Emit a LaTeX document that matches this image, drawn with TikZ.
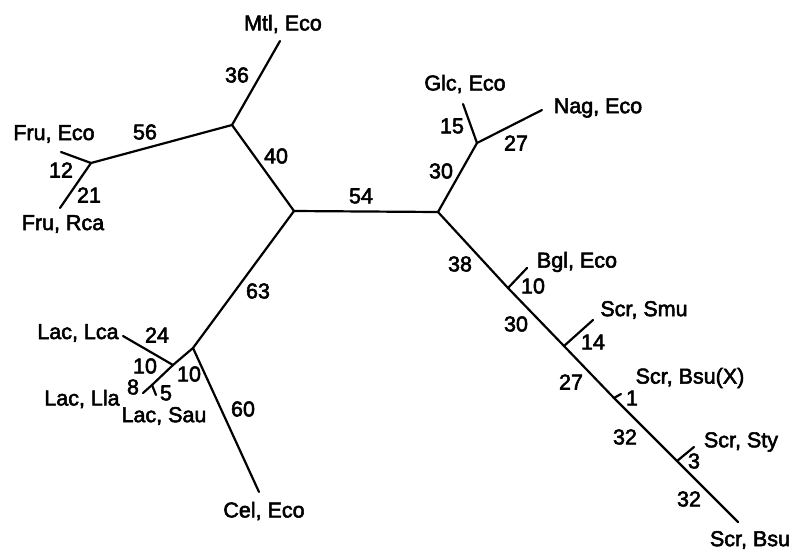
\documentclass[tikz,border=0pt]{standalone}
\usepackage{fontspec}
\setmainfont{Liberation Sans}[FakeBold=2.5]
\begin{document}
\begin{tikzpicture}
[x=1pt,y=-1pt,%
  lineDecorate/.style={-,line width=2.2pt,line cap=round},%
  taxonDecorate/.style={inner sep=0pt},%
  lengthDecorate/.style={inner sep=0pt}]
\fontsize{21.5}{25}\selectfont
\useasboundingbox (0,0) rectangle (793,550);
%% branch points
\foreach \nodename/\x/\y in {
  L/294/211, R/438/212, UL/232/125, F/91/163,
  LAC/193/348, LA/173/365, LB/152/385,
  G/477/143, BG/508/288, SM/564/346, BX/614/398, ST/677/461}
  \coordinate (\nodename) at (\x,\y);
%% leaf ends
\foreach \nodename/\x/\y in {
  Mtl/280/41, FruE/61/152, FruR/60/208, Cel/259/492,
  Lca/123/336, Lla/143/393, Sau/156/395,
  Glc/463/104, Nag/542/110, Bgl/527/268, Smu/593/320,
  BsuX/621/394, Sty/694/447, Bsu/738/522}
  \coordinate (\nodename) at (\x,\y);
%% branches
\foreach \from/\to in {
  L/R, L/UL, UL/Mtl, UL/F, F/FruE, F/FruR,
  L/LAC, LAC/Cel, LAC/LA, LA/Lca, LA/LB, LB/Lla, LB/Sau,
  R/G, G/Glc, G/Nag, R/BG, BG/SM, SM/BX, BX/ST, ST/Bsu,
  BG/Bgl, SM/Smu, BX/BsuX, ST/Sty}
  \draw[lineDecorate] (\from) -- (\to);
%% taxon labels
\foreach \nodename/\x/\y/\taxon in {
  tMtl/283/24/{Mtl, Eco}, tFruE/54/134/{Fru, Eco}, tFruR/63/224/{Fru, Rca},
  tGlc/465/84/{Glc, Eco}, tNag/598/108/{Nag, Eco}, tBgl/577/262/{Bgl, Eco},
  tSmu/644/310/{Scr, Smu}, tBsuX/690/378/{Scr, Bsu(X)}, tSty/741/442/{Scr, Sty},
  tBsu/750/540/{Scr, Bsu}, tCel/264/511/{Cel, Eco}, tLca/78/333/{Lac, Lca},
  tLla/82/399/{Lac, Lla}, tSau/164/416/{Lac, Sau}}
  \node[taxonDecorate] (\nodename) at (\x,\y) {\taxon};
%% branch lengths
\foreach \nodename/\x/\y/\len in {
  n36/237/75/36, n40/276/156/40, n56/145/132/56, n12/61/170/12, n21/89/195/21,
  n54/361/196/54, n15/452/126/15, n27a/516/143/27, n30a/441/171/30,
  n38/460/264/38, n10a/533/286/10, n30b/516/324/30, n14/593/342/14,
  n27b/571/382/27, n1/632/398/1, n32a/625/437/32, n3/694/461/3, n32b/689/499/32,
  n63/258/291/63, n60/243/409/60, n24/157/335/24, n10b/145/366/10,
  n10c/189/374/10, n8/133/387/8, n5/166/393/5}
  \node[lengthDecorate] (\nodename) at (\x,\y) {\len};
\end{tikzpicture}
\end{document}
